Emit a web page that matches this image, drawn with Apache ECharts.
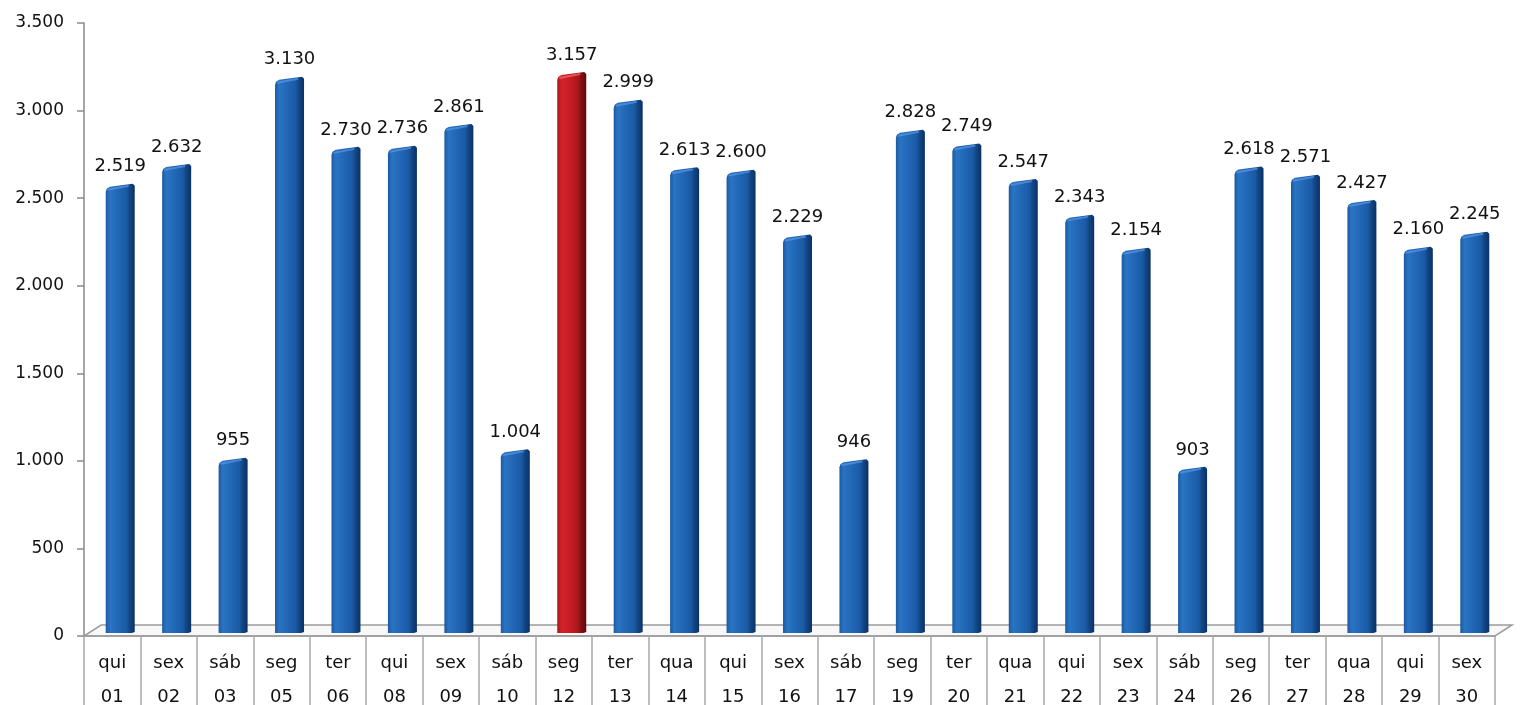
<!DOCTYPE html>
<html>
<head>
<meta charset="utf-8">
<script src="https://cdn.jsdelivr.net/npm/echarts@6/dist/echarts.min.js"></script>
<style>html,body{margin:0;padding:0;background:#fff;}#c{width:1527px;height:705px;}</style>
</head>
<body>
<div id="c"></div>
<script>
const weekdays = ['qui','sex','sáb','seg','ter','qui','sex','sáb','seg','ter','qua','qui','sex','sáb','seg','ter','qua','qui','sex','sáb','seg','ter','qua','qui','sex'];
const days = ['01','02','03','05','06','08','09','10','12','13','14','15','16','17','19','20','21','22','23','24','26','27','28','29','30'];
const values = [2519,2632,955,3130,2730,2736,2861,1004,3157,2999,2613,2600,2229,946,2828,2749,2547,2343,2154,903,2618,2571,2427,2160,2245];
const highlightIndex = 8;
const yTicks = [0,500,1000,1500,2000,2500,3000,3500];

const FONT = '"DejaVu Sans", "Liberation Sans", Arial, sans-serif';
const GRID = {left:84, right:32, top:23, bottom:69};
const W = 1527, H = 705;

function fmt(v){ return String(v).replace(/\B(?=(\d{3})+(?!\d))/g,'.'); }

const categories = weekdays.map((w,i)=> w + '\n' + days[i]);

const blueGrad = {type:'linear',x:0,y:0,x2:1,y2:0,colorStops:[
  {offset:0,color:'#1b5aa2'},{offset:0.15,color:'#2a74c3'},{offset:0.5,color:'#1f64b2'},
  {offset:0.72,color:'#1a59a3'},{offset:0.8,color:'#134a8a'},{offset:1,color:'#0a3163'}]};
const redGrad = {type:'linear',x:0,y:0,x2:1,y2:0,colorStops:[
  {offset:0,color:'#a9161b'},{offset:0.15,color:'#d3232a'},{offset:0.5,color:'#c21c22'},
  {offset:0.72,color:'#a8171c'},{offset:0.8,color:'#8a1014'},{offset:1,color:'#5a0a0c'}]};

function renderItem(params, api){
  const i = api.value(0), v = api.value(1);
  const top = api.coord([i, v]);
  const base = api.coord([i, 0]);
  const dx = 8, dy = 8, w = 29;
  const cx = top[0] + dx;
  const x0 = cx - w/2;
  const yTop = top[1] - dy;
  const yBot = base[1] - 3;
  const red = i === highlightIndex;
  return {
    type:'group',
    children:[
      {type:'polygon', shape:{points:[
        [x0, yTop+5],[x0+1, yTop+2],[x0+4, yTop],[x0+w-2, yTop-3],[x0+w, yTop-1],
        [x0+w, yBot-1],[x0+w-3, yBot],[x0, yBot]]},
       style:{fill: red ? redGrad : blueGrad}},
      {type:'polyline', shape:{points:[[x0+2, yTop+3],[x0+w-6, yTop-1]]},
       style:{stroke: red ? 'rgba(240,110,110,0.7)' : 'rgba(90,150,230,0.7)', lineWidth:2, fill:null}},
      {type:'text', x: cx, y: yTop - 11,
       style:{text: fmt(v), textAlign:'center', textVerticalAlign:'bottom',
              font: '18px ' + FONT, fill:'#111111'}}
    ]
  };
}

const chart = echarts.init(document.getElementById('c'));
const x0 = GRID.left, x1 = W - GRID.right, yb = H - GRID.bottom;
const depthX = 17, depthY = 11;
chart.setOption({
  backgroundColor:'#ffffff',
  animation:false,
  grid: Object.assign({containLabel:false, outerBoundsMode:'none'}, GRID),
  graphic: [{
    type:'polygon', z: 0,
    shape:{points:[[x0,yb],[x1,yb],[x1+depthX,yb-depthY],[x0+depthX,yb-depthY]]},
    style:{fill:'#f8f8f8', stroke:'#9c9c9c', lineWidth:1.5}
  }],
  xAxis:{
    type:'category', data: categories, boundaryGap:true,
    axisLine:{show:true, lineStyle:{color:'#9a9a9a', width:1.5}},
    axisTick:{show:true, interval:0, length:69, lineStyle:{color:'#a8a8a8', width:1.5}},
    axisLabel:{interval:0, margin:10, lineHeight:34, fontSize:18, fontFamily:FONT, color:'#111111'},
    splitLine:{show:false}
  },
  yAxis:{
    type:'value', min:yTicks[0], max:yTicks[yTicks.length-1], interval:yTicks[1]-yTicks[0],
    axisLine:{show:true, lineStyle:{color:'#8a8a8a', width:1.5}},
    axisTick:{show:true, length:7, lineStyle:{color:'#8a8a8a', width:1.5}},
    axisLabel:{margin:20, fontSize:17, fontFamily:FONT, color:'#111111', padding:[5,0,0,0], formatter: v => fmt(v)},
    splitLine:{show:false}
  },
  series:[{
    type:'custom', renderItem: renderItem,
    data: values.map((v,i)=>[i,v]),
    encode:{x:0, y:1}, clip:false, z:3
  }]
});
</script>
</body>
</html>
